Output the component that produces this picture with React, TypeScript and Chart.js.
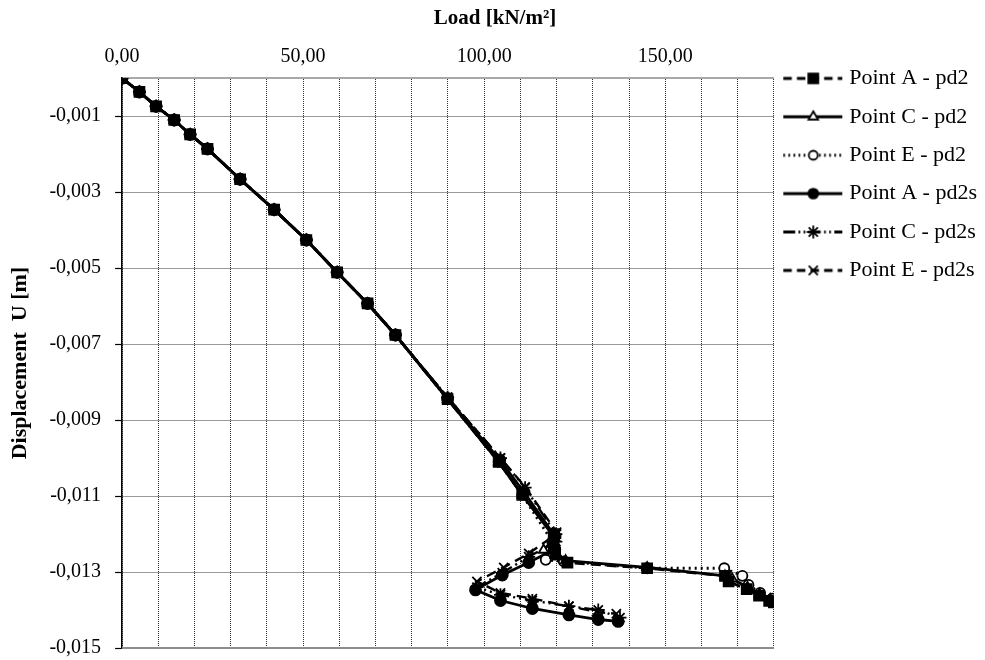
import React, { useEffect, useRef } from "react";
import { Chart, registerables } from "chart.js";

Chart.register(...registerables);

// ---- data (Load kN/m², Displacement m) ----
const loadA_pd2 = [0, 4.8, 9.4, 14.4, 18.8, 23.6, 32.6, 42.0, 50.9, 59.4, 67.8, 75.5, 89.9, 104.0, 110.5, 119.2, 119.2, 119.6, 123.0, 145.0, 166.5, 167.5, 172.5, 175.9, 178.7, 180.0];
const dispA_pd2 = [0, -0.00036, -0.00074, -0.0011, -0.00148, -0.00186, -0.00266, -0.00346, -0.00426, -0.00511, -0.00593, -0.00676, -0.00845, -0.0101, -0.01097, -0.012, -0.0123, -0.0125, -0.01275, -0.0129, -0.0131, -0.01325, -0.01345, -0.01362, -0.01376, -0.0138];

const loadC_pd2 = [0, 4.8, 9.4, 14.4, 18.8, 23.6, 32.6, 42.0, 50.9, 59.4, 67.8, 75.5, 89.9, 104.0, 110.5, 119.5, 116.4, 120.5, 122.5, 145.0, 166.5, 168.5, 172.7, 176.0, 179.0];
const dispC_pd2 = [0, -0.00036, -0.00074, -0.0011, -0.00148, -0.00186, -0.00266, -0.00346, -0.00426, -0.00511, -0.00593, -0.00676, -0.00845, -0.0101, -0.01097, -0.0121, -0.01242, -0.0126, -0.0127, -0.01288, -0.0131, -0.01318, -0.0134, -0.01358, -0.01372];

const loadE_pd2 = [0, 4.8, 9.4, 14.4, 18.8, 23.6, 32.6, 42.0, 50.9, 59.4, 67.8, 75.5, 89.9, 104.0, 110.5, 118.8, 117.0, 122.0, 145.0, 166.3, 171.3, 173.0, 176.2, 179.5];
const dispE_pd2 = [0, -0.00036, -0.00074, -0.0011, -0.00148, -0.00186, -0.00266, -0.00346, -0.00426, -0.00511, -0.00593, -0.00676, -0.00845, -0.0101, -0.01097, -0.0122, -0.01268, -0.01272, -0.0129, -0.0129, -0.0131, -0.01334, -0.01355, -0.0137];

const loadA_pd2s = [0, 4.8, 9.4, 14.4, 18.8, 23.6, 32.6, 42.0, 50.9, 59.4, 67.8, 75.5, 89.9, 104.3, 111.0, 119.5, 119.5, 112.3, 105.0, 97.6, 104.5, 113.3, 123.4, 131.5, 137.0];
const dispA_pd2s = [0, -0.00036, -0.00074, -0.0011, -0.00148, -0.00186, -0.00266, -0.00346, -0.00426, -0.00511, -0.00593, -0.00676, -0.00843, -0.01005, -0.0109, -0.01205, -0.0124, -0.01275, -0.01308, -0.01347, -0.01375, -0.01396, -0.01413, -0.01425, -0.0143];

const loadC_pd2s = [0, 4.8, 9.4, 14.4, 18.8, 23.6, 32.6, 42.0, 50.9, 59.4, 67.8, 75.5, 89.9, 104.5, 111.3, 119.8, 119.8, 112.3, 105.0, 98.0, 104.5, 113.3, 123.4, 131.5, 137.5];
const dispC_pd2s = [0, -0.00036, -0.00074, -0.0011, -0.00148, -0.00186, -0.00266, -0.00346, -0.00426, -0.00511, -0.00593, -0.00676, -0.0084, -0.01, -0.01078, -0.012, -0.0122, -0.0126, -0.01302, -0.0134, -0.0136, -0.01375, -0.0139, -0.014, -0.0142];

const loadE_pd2s = [0, 4.8, 9.4, 14.4, 18.8, 23.6, 32.6, 42.0, 50.9, 59.4, 67.8, 75.5, 89.9, 104.5, 111.3, 120.0, 120.0, 112.3, 105.4, 98.0, 104.5, 113.3, 123.4, 131.0, 136.5];
const dispE_pd2s = [0, -0.00036, -0.00074, -0.0011, -0.00148, -0.00186, -0.00266, -0.00346, -0.00426, -0.00511, -0.00593, -0.00676, -0.0084, -0.01, -0.01076, -0.01195, -0.012, -0.01251, -0.01288, -0.01325, -0.01355, -0.0137, -0.0139, -0.01405, -0.0141];

const seriesNames = ["Point A - pd2", "Point C - pd2", "Point E - pd2", "Point A - pd2s", "Point C - pd2s", "Point E - pd2s"];
const yTickValues = [-0.015, -0.013, -0.011, -0.009, -0.007, -0.005, -0.003, -0.001];

const FONT = "'Liberation Serif', 'Times New Roman', serif";

type Style = {
  dash: number[];
  point: string;
  radius: number;
  fill: string;
  width: number;
};

const styles: Style[] = [
  { dash: [10, 6], point: "rect", radius: 7, fill: "#000", width: 2.8 },
  { dash: [], point: "triangle", radius: 5.5, fill: "#fff", width: 2.8 },
  { dash: [2, 4], point: "circle", radius: 5, fill: "#fff", width: 2.8 },
  { dash: [], point: "circle", radius: 5.5, fill: "#000", width: 2.8 },
  { dash: [14, 4, 2, 4, 2, 4], point: "star", radius: 6.5, fill: "#000", width: 2.4 },
  { dash: [10, 6], point: "crossRot", radius: 6.5, fill: "#000", width: 2.4 },
];

function zip(xs: number[], ys: number[]) {
  return xs.map((x, i) => ({ x, y: ys[i] }));
}

function legendIcon(s: Style): HTMLCanvasElement {
  const c = document.createElement("canvas");
  c.width = 64;
  c.height = 18;
  const ctx = c.getContext("2d")!;
  ctx.strokeStyle = "#000";
  ctx.lineWidth = 2.8;
  ctx.setLineDash(s.dash.length ? s.dash.map((d) => d * 0.85) : []);
  ctx.beginPath();
  ctx.moveTo(1, 9);
  ctx.lineTo(60, 9);
  ctx.stroke();
  ctx.setLineDash([]);
  const cx = 31, cy = 9, r = s.radius;
  ctx.fillStyle = s.fill;
  ctx.lineWidth = 1.8;
  ctx.beginPath();
  if (s.point === "rect") {
    const h = r * Math.SQRT1_2;
    ctx.rect(cx - h, cy - h, 2 * h, 2 * h);
    ctx.fill();
    ctx.stroke();
  } else if (s.point === "triangle") {
    ctx.moveTo(cx, cy - r);
    ctx.lineTo(cx + r * 0.87, cy + r * 0.5);
    ctx.lineTo(cx - r * 0.87, cy + r * 0.5);
    ctx.closePath();
    ctx.fill();
    ctx.stroke();
  } else if (s.point === "circle") {
    ctx.arc(cx, cy, r * 0.9, 0, Math.PI * 2);
    ctx.fill();
    ctx.stroke();
  } else {
    const d = r * 0.7;
    ctx.moveTo(cx - d, cy - d); ctx.lineTo(cx + d, cy + d);
    ctx.moveTo(cx - d, cy + d); ctx.lineTo(cx + d, cy - d);
    if (s.point === "star") {
      ctx.moveTo(cx - r, cy); ctx.lineTo(cx + r, cy);
      ctx.moveTo(cx, cy - r); ctx.lineTo(cx, cy + r);
    }
    ctx.stroke();
  }
  return c;
}

const frame = {
  id: "frame",
  beforeDatasetsDraw(chart: any) {
    const { ctx, chartArea } = chart;
    ctx.save();
    ctx.strokeStyle = "#8c8c8c";
    ctx.lineWidth = 2;
    ctx.beginPath();
    ctx.moveTo(chartArea.left, chartArea.bottom);
    ctx.lineTo(chartArea.right, chartArea.bottom);
    ctx.stroke();
    ctx.restore();
  },
};

export default function App() {
  const ref = useRef<HTMLCanvasElement | null>(null);

  useEffect(() => {
    if (!ref.current) return;
    const pairs = [
      zip(loadA_pd2, dispA_pd2),
      zip(loadC_pd2, dispC_pd2),
      zip(loadE_pd2, dispE_pd2),
      zip(loadA_pd2s, dispA_pd2s),
      zip(loadC_pd2s, dispC_pd2s),
      zip(loadE_pd2s, dispE_pd2s),
    ];
    const icons = styles.map(legendIcon);
    const chart = new Chart(ref.current, {
      type: "scatter",
      data: {
        datasets: pairs.map((d, i) => ({
          label: seriesNames[i],
          data: d,
          showLine: true,
          borderColor: "#000",
          borderWidth: styles[i].width,
          borderDash: styles[i].dash,
          pointStyle: styles[i].point as any,
          pointRadius: styles[i].radius,
          pointBackgroundColor: styles[i].fill,
          pointBorderColor: "#000",
          pointBorderWidth: 1.8,
          backgroundColor: styles[i].fill,
        })),
      },
      plugins: [frame],
      options: {
        animation: false,
        responsive: false,
        maintainAspectRatio: false,
        color: "#000",
        layout: { padding: { left: 3, right: -2, top: 0, bottom: 12 } },
        plugins: {
          tooltip: { enabled: false },
          title: {
            display: true,
            text: "Load [kN/m²]",
            color: "#000",
            font: { family: FONT, size: 21, weight: "bold" },
            padding: { top: 6, bottom: 5 },
          },
          legend: {
            position: "right",
            align: "start",
            title: { display: true, text: "", font: { size: 10 }, padding: 19.5 },
            labels: {
              color: "#000",
              font: { family: FONT, size: 22 },
              usePointStyle: true,
              pointStyleWidth: 48,
              padding: 16.4,
              generateLabels: () =>
                seriesNames.map((t, i) => ({
                  text: t,
                  pointStyle: icons[i] as any,
                  fillStyle: "#000",
                  strokeStyle: "#000",
                  fontColor: "#000",
                  lineWidth: 0,
                  hidden: false,
                  datasetIndex: i,
                })),
            },
          },
        },
        scales: {
          x: {
            type: "linear",
            position: "top",
            min: 0,
            max: 180,
            afterFit: (scale: any) => {
              scale.paddingLeft = 0;
              scale.paddingRight = 0;
            },
            ticks: {
              stepSize: 10,
              autoSkip: false,
              maxRotation: 0,
              padding: 9,
              color: "#000",
              font: { family: FONT, size: 20 },
              callback: (v: any) => (Number(v) % 50 === 0 ? Number(v).toFixed(2).replace(".", ",") : ""),
            },
            grid: { color: "#333", lineWidth: 1, drawTicks: false },
            border: { display: true, color: "#a8a8a8", width: 2, dash: [1, 1] },
          },
          y: {
            type: "linear",
            min: -0.015,
            max: 0,
            afterBuildTicks: (scale: any) => {
              scale.ticks = yTickValues.map((v) => ({ value: v }));
            },
            afterFit: (scale: any) => {
              scale.paddingTop = 0;
              scale.paddingBottom = 0;
            },
            ticks: {
              autoSkip: false,
              padding: 14,
              color: "#000",
              font: { family: FONT, size: 20 },
              callback: (v: any) => Number(v).toFixed(3).replace(".", ","),
            },
            grid: { color: "#333", lineWidth: 1, drawTicks: true, tickLength: 7, tickColor: "#000", tickWidth: 1.2 },
            border: { display: true, color: "#000", width: 1.5, dash: [1, 1] },
            title: {
              display: true,
              text: "Displacement  U [m]",
              color: "#000",
              font: { family: FONT, size: 22, weight: "bold" },
              padding: { top: 4, bottom: 2 },
            },
          },
        },
      },
    });
    return () => chart.destroy();
  }, []);

  return (
    <div style={{ position: "fixed", left: 0, top: 0, width: 985, height: 660, background: "#fff" }}>
      <canvas ref={ref} width={985} height={660} style={{ width: 985, height: 660, display: "block" }} />
    </div>
  );
}
